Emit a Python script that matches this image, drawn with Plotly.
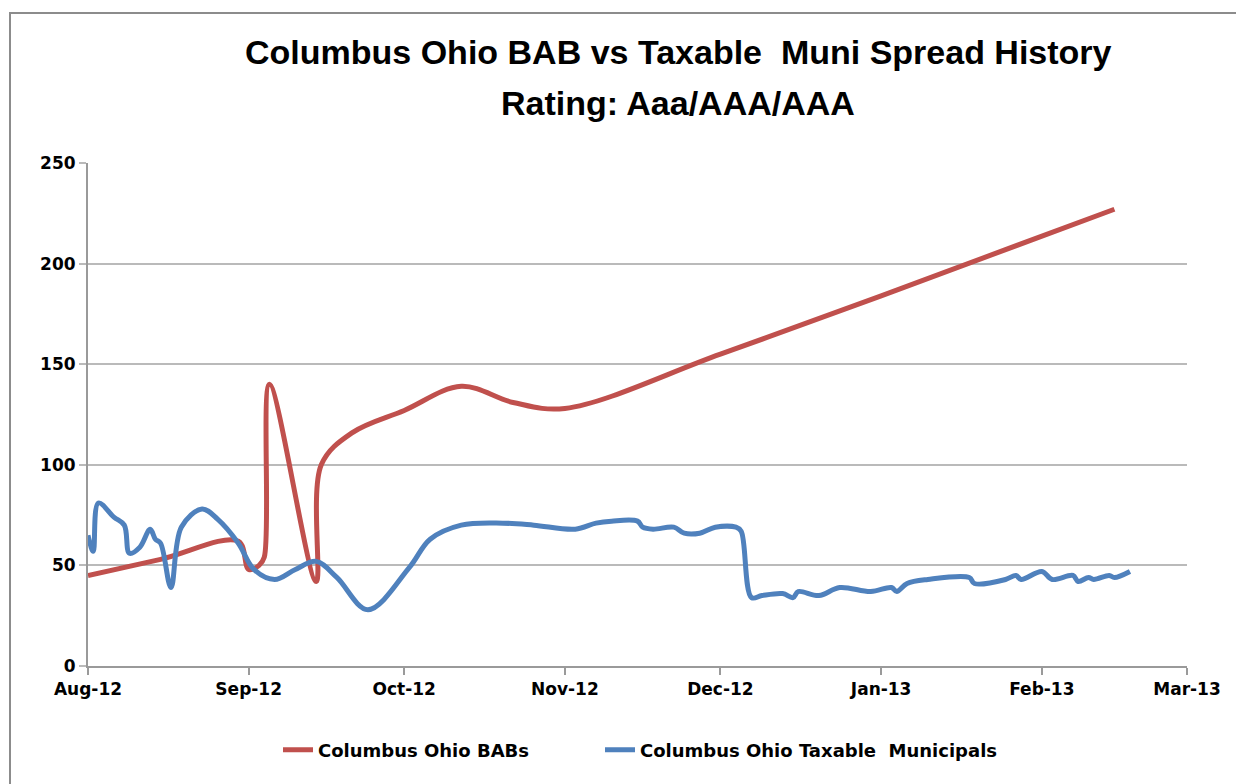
import plotly.graph_objects as go

# ---- data ----
bab_dates = ["2012-08-01", "2012-08-15", "2012-08-30", "2012-09-01", "2012-09-03",
             "2012-09-04", "2012-09-05", "2012-09-14", "2012-09-15", "2012-09-21",
             "2012-10-01", "2012-10-12", "2012-10-22", "2012-11-01", "2012-12-01",
             "2013-01-01", "2013-02-15"]
bab_values = [45, 53, 62, 48, 50, 54, 140, 42, 100, 116, 127, 139, 131, 128, 155, 184, 227]

muni_dates = ["2012-08-01", "2012-08-02", "2012-08-03", "2012-08-06", "2012-08-08",
              "2012-08-09", "2012-08-11", "2012-08-13", "2012-08-14", "2012-08-15",
              "2012-08-17", "2012-08-19", "2012-08-23", "2012-08-26", "2012-08-30",
              "2012-09-02", "2012-09-06", "2012-09-10", "2012-09-14", "2012-09-18",
              "2012-09-24", "2012-10-02", "2012-10-06", "2012-10-12", "2012-10-20",
              "2012-10-26", "2012-11-03", "2012-11-07", "2012-11-10", "2012-11-15",
              "2012-11-16", "2012-11-18", "2012-11-22", "2012-11-24", "2012-11-27",
              "2012-11-30", "2012-12-04", "2012-12-05", "2012-12-07", "2012-12-09",
              "2012-12-13", "2012-12-15", "2012-12-16", "2012-12-20", "2012-12-24",
              "2012-12-30", "2013-01-03", "2013-01-04", "2013-01-06", "2013-01-10",
              "2013-01-18", "2013-01-19", "2013-01-25", "2013-01-27", "2013-01-28",
              "2013-02-01", "2013-02-03", "2013-02-07", "2013-02-08", "2013-02-10",
              "2013-02-11", "2013-02-14", "2013-02-15", "2013-02-18"]
muni_values = [65, 57, 81, 74, 70, 56, 59, 68, 63, 61, 39, 69, 78, 73, 61,
               48, 43, 48, 52, 44, 28, 49, 63, 70, 71, 70, 68, 71, 72, 72,
               69, 68, 69, 66, 66, 69, 69, 67, 34, 35, 36, 34, 37, 35, 39,
               37, 39, 37, 41, 43, 44, 41, 43, 45, 43, 47, 43, 45, 42, 44,
               43, 45, 44, 47]

series_names = ["Columbus Ohio BABs", "Columbus Ohio Taxable  Municipals"]
title_line1 = "Columbus Ohio BAB vs Taxable  Muni Spread History"
title_line2 = "Rating: Aaa/AAA/AAA"
y_ticks = [0, 50, 100, 150, 200, 250]

RED = "#C0504D"
BLUE = "#4F81BD"
GRID = "#BABABA"
AXIS = "#9A9A9A"
FONT = "DejaVu Sans, Liberation Sans, Arial, sans-serif"
TFONT = "Liberation Sans, Arial, sans-serif"

# plot area in page pixels (page body has an 8px margin)
PL, PR, PT, PB = 88, 1187, 163, 666
PW, PH = PR - PL, PB - PT


def px(x):
    return (x - PL) / PW


def py(y):
    return (PB - y) / PH


legend_font = dict(family=FONT, size=18, color="black", weight="bold")

fig = go.Figure()
fig.add_trace(go.Scatter(x=bab_dates, y=bab_values, mode="lines", name=series_names[0],
                         legend="legend",
                         line=dict(color=RED, width=5, shape="spline", smoothing=1.0)))
fig.add_trace(go.Scatter(x=muni_dates, y=muni_values, mode="lines", name=series_names[1],
                         legend="legend2",
                         line=dict(color=BLUE, width=5, shape="spline", smoothing=1.0)))

fig.update_layout(
    width=1236, height=776,
    margin=dict(l=PL - 8, r=1236 - (PR - 8), t=PT - 8, b=776 - (PB - 8)),
    paper_bgcolor="white", plot_bgcolor="white",
    font=dict(family=FONT, color="black"),
    showlegend=True,
    legend=dict(orientation="h", x=px(278), xanchor="left", y=py(750), yanchor="middle",
                font=legend_font, bgcolor="rgba(0,0,0,0)"),
    legend2=dict(orientation="h", x=px(600), xanchor="left", y=py(750), yanchor="middle",
                 font=legend_font, bgcolor="rgba(0,0,0,0)"),
    annotations=[
        dict(text="<b>%s</b>" % title_line1, xref="paper", yref="paper",
             x=px(678), y=py(52), xanchor="center", yanchor="middle",
             showarrow=False, font=dict(family=TFONT, size=34)),
        dict(text="<b>%s</b>" % title_line2, xref="paper", yref="paper",
             x=px(678), y=py(103), xanchor="center", yanchor="middle",
             showarrow=False, font=dict(family=TFONT, size=34)),
    ],
    shapes=[
        dict(type="rect", xref="paper", yref="paper",
             x0=px(10), x1=px(1260), y0=py(800), y1=py(13),
             line=dict(color="#8C8C8C", width=2), fillcolor="rgba(0,0,0,0)", layer="below"),
    ],
)

fig.update_xaxes(type="date", range=["2012-08-01", "2013-03-01"],
                 tick0="2012-08-01", dtick="M1", tickformat="%b-%y",
                 showgrid=False, showline=True, linecolor=AXIS, linewidth=2,
                 ticks="outside", ticklen=7, tickcolor=AXIS, tickwidth=1.5,
                 tickfont=dict(family=FONT, size=17, color="black", weight="bold"),
                 zeroline=False, fixedrange=True)
fig.update_yaxes(range=[0, 250], tickvals=y_ticks,
                 showgrid=True, gridcolor=GRID, gridwidth=2,
                 showline=True, linecolor=AXIS, linewidth=2,
                 ticks="outside", ticklen=7, tickcolor=GRID, tickwidth=2,
                 tickfont=dict(family=FONT, size=17, color="black", weight="bold"),
                 zeroline=False, fixedrange=True)

fig.write_html("out.html")
